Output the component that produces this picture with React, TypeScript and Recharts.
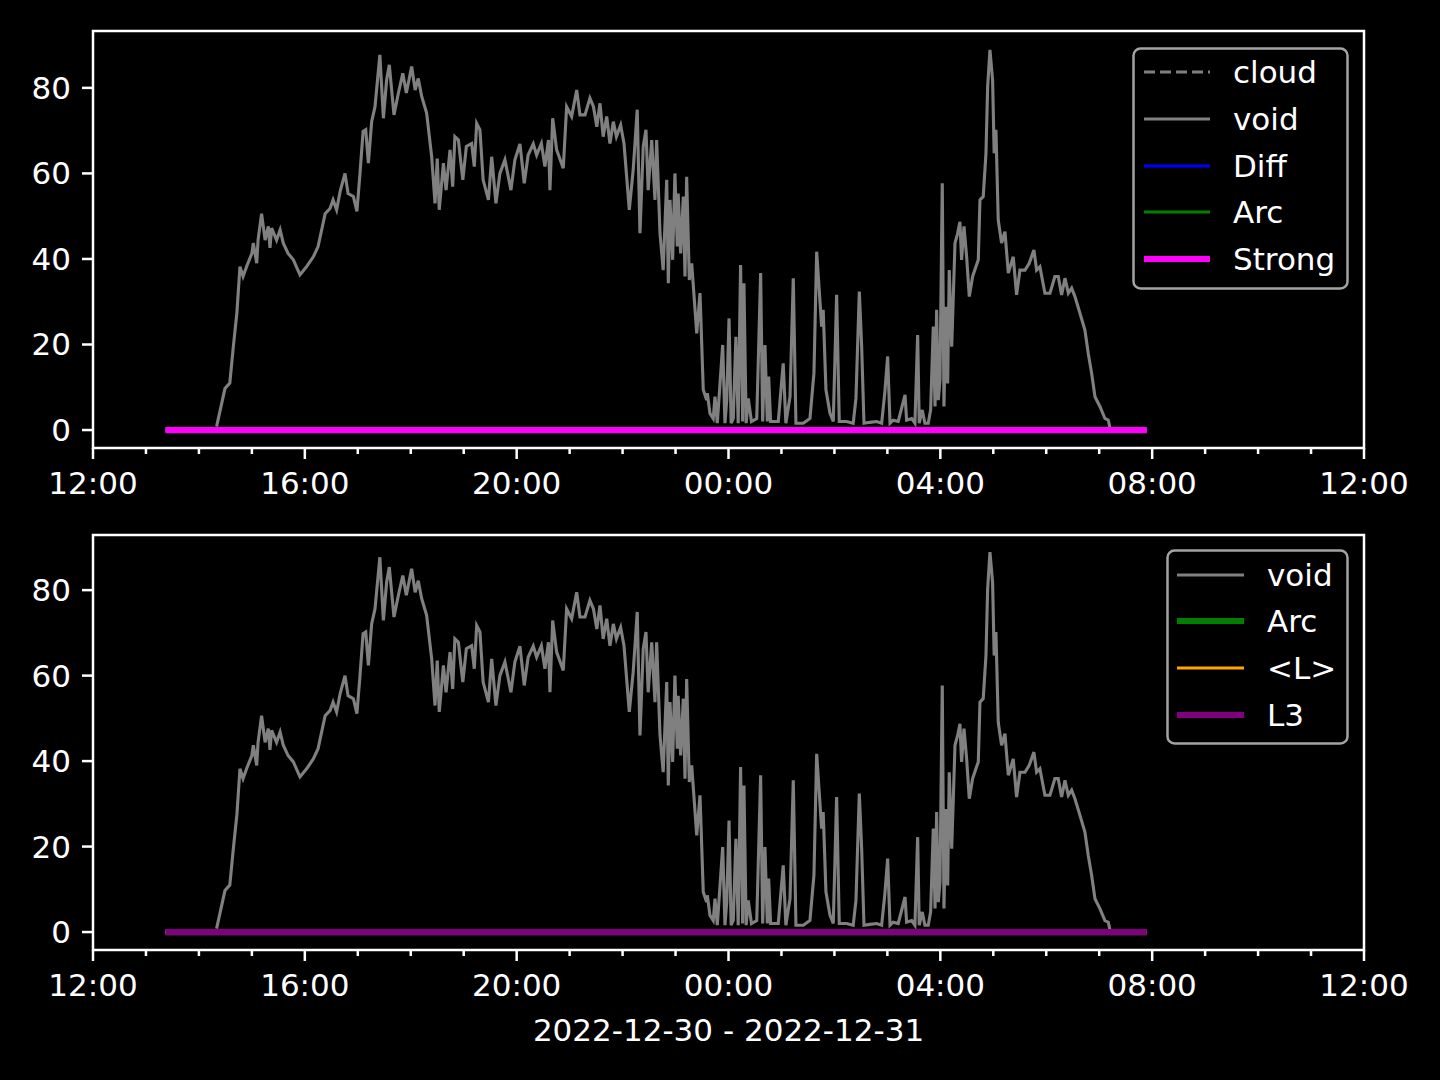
import React from 'react';
import { LineChart, Line, XAxis, YAxis, ReferenceArea, Legend } from 'recharts';

// minutes after 12:00 on 2022-12-30
const hourTicks = [0, 60, 120, 180, 240, 300, 360, 420, 480, 540, 600, 660, 720, 780, 840, 900, 960, 1020, 1080, 1140, 1200, 1260, 1320, 1380, 1440];
const majorTicks = [0, 240, 480, 720, 960, 1200, 1440];
const majorLabels = ['12:00', '16:00', '20:00', '00:00', '04:00', '08:00', '12:00'];
const yTicks = [0, 20, 40, 60, 80];
const dateLabel = '2022-12-30 - 2022-12-31';

const voidMinutes = [
  140, 149.5, 155, 159, 163, 166.5, 170, 174, 180, 181.6, 185.5, 187, 191, 195, 198.6, 200.5, 202.4, 208, 212, 215.6,
  221, 227, 234.5, 242, 249.6, 255, 263, 268.5, 272, 276, 280, 285.5, 289, 295, 299, 302.5, 306, 309, 312, 315.7,
  319.5, 325, 329, 332.7, 335.7, 341, 346, 351, 355, 361, 365, 368.5, 372.4, 378, 383.7, 387.5, 390, 392.3, 397, 400,
  404.5, 407.5, 410, 414, 416.6, 419, 423, 429, 432, 434.7, 438.4, 442, 448, 451.7, 456.5, 461, 466.7, 473.5, 478, 483.7,
  488.6, 493, 498.8, 502.6, 508, 512, 516, 517.7, 520.8, 525.3, 532.8, 536.6, 542.3, 548, 551.7, 557.4, 563, 567, 570.8, 574.4,
  578, 582, 585.7, 589.5, 593, 597.8, 601.6, 607.6, 612, 616.6, 619.7, 623.4, 626.5, 629, 633, 636.7, 638.6, 642.4, 646, 650,
  651.8, 653.7, 656.7, 659.3, 662, 663, 665.8, 668.8, 670.7, 672.6, 675.6, 678.3, 684, 687.7, 691.4, 695.2, 696, 699, 702.7, 704.7,
  707.3, 713.4, 716, 718, 720.6, 723, 725.4, 728.4, 731, 733.7, 736, 737.5, 740, 742.4, 746, 752, 756.4, 758.7, 761.3, 764,
  765.5, 767.7, 776.4, 782, 785, 789.7, 793.4, 796.4, 804.7, 812.3, 816.8, 819.9, 822.8, 825.5, 827.3, 830.4, 835, 838.7, 842.5, 845.5,
  853.8, 861.3, 864.4, 868.2, 870.8, 873.5, 880, 887.8, 893.5, 897.2, 900.3, 903, 906.6, 912.3, 920, 921.8, 927.5, 931.2, 934.3, 936.1,
  939.5, 942.5, 946.3, 949, 952, 954, 955.8, 957.7, 959.6, 962.2, 964.1, 966.4, 968.3, 970.1, 972.9, 976.6, 979.6, 982.2, 984.1, 986.8,
  989.8, 992.8, 996.6, 1000.3, 1003, 1004.9, 1008.6, 1011.7, 1013.6, 1016.2, 1019.2, 1021, 1023, 1025.6, 1029.4, 1033.2, 1037, 1042.6, 1046.4, 1050.2,
  1055.9, 1060.7, 1066, 1069.1, 1072.8, 1078.5, 1084.2, 1089.8, 1093.6, 1097.4, 1101.2, 1105, 1108.8, 1112.5, 1118.2, 1123.8, 1127.6, 1131.4, 1135.2, 1140.8,
  1146.5, 1150.3, 1152.2,
];
const voidValues = [
  0.8, 9.7, 11, 19.5, 27.4, 38.2, 35.9, 38.2, 41.3, 43.7, 39, 44.4, 50.6, 44.4, 47.6, 42.6, 47.2, 44.4, 46.8, 43.7,
  41.3, 39.8, 36.3, 38.2, 40.5, 42.9, 50.6, 51.8, 53.8, 51.5, 55.8, 60, 55.3, 54.6, 51.1, 60, 69.8, 70.2, 62.4, 72.1,
  75.6, 87.7, 72.9, 81.9, 85.4, 73.7, 78.8, 83.4, 78.8, 85, 79.5, 82.2, 78, 74.1, 63.9, 53, 63.5, 51.5, 62.4, 56.1,
  65.5, 56.9, 68.6, 67.8, 62.8, 58.5, 66.3, 67, 61.6, 71.7, 70.2, 58.5, 53.8, 63.9, 53, 60, 63.2, 56.1, 63.2, 66.9,
  57.7, 64.3, 66.9, 64.3, 67, 61.6, 67.8, 56.1, 72.9, 65.5, 61.2, 75.6, 73.3, 79.5, 73.7, 73.7, 77.6, 75.6, 70.9, 76.4,
  68.6, 73.3, 67, 72.1, 68.6, 71.3, 67, 51.5, 60.8, 74.9, 46, 66.3, 70.2, 56.1, 67.8, 53.8, 67.8, 46, 37.4, 58.5,
  34.3, 53.8, 39.8, 60, 42.9, 55.3, 41.3, 54.6, 35.9, 59.2, 35.1, 39, 22.6, 32, 9.4, 7, 8.6, 3.9, 2.7, 7.8,
  1.6, 19.9, 1.6, 7, 26.1, 1.6, 2.7, 21.8, 1.6, 38.6, 2, 34.3, 1.6, 7.4, 2, 2.7, 36.7, 2, 19.9, 2,
  12.5, 2, 2, 15.6, 1.6, 7.8, 35.5, 1.6, 1.6, 2.7, 13.3, 41.7, 32.7, 24.2, 28.1, 9.4, 3.9, 2, 31.6, 2,
  2, 1.6, 7.4, 32.4, 19.9, 1.6, 1.8, 2, 1.6, 9, 17.2, 1.6, 2.3, 2, 8.2, 2.3, 2.7, 1.6, 22.2, 1.6,
  4.7, 1.6, 1.6, 4.7, 24.2, 5.5, 28.1, 7, 11.7, 57.7, 5.5, 28.8, 10.9, 37.4, 19.5, 43.7, 46, 48.7, 39.8, 47.6,
  40.5, 31.2, 35.9, 38.2, 39.8, 53.8, 54.6, 64.7, 80.3, 88.9, 81.9, 64.7, 70.2, 49.1, 43.7, 46.4, 36.7, 40.5, 31.6, 37.4,
  37.4, 39, 42.1, 37.4, 38.2, 32, 32, 35.9, 35.9, 31.6, 35.5, 32, 33.2, 31.2, 27.3, 23.4, 17.9, 13.3, 7.8, 5.5,
  2.7, 2.3, 0.5,
];

// flat indicator series, zero over the whole sampled span
const zeroMinutes = [82, 1194];
const zeroValues = [0, 0];

const voidData = voidMinutes.map((t, i) => ({ t, v: voidValues[i] }));
const zeroData = zeroMinutes.map((t, i) => ({ t, v: zeroValues[i] }));

type Series = { name: string; color: string; width: number; dash?: string; data: { t: number; v: number }[] };

const topSeries: Series[] = [
  { name: 'cloud', color: '#808080', width: 3.1, dash: '11 5', data: zeroData },
  { name: 'void', color: '#808080', width: 3.1, data: voidData },
  { name: 'Diff', color: '#0000ff', width: 3.1, data: zeroData },
  { name: 'Arc', color: '#008000', width: 3.1, data: zeroData },
  { name: 'Strong', color: '#ff00ff', width: 6.2, data: zeroData },
];

const bottomSeries: Series[] = [
  { name: 'void', color: '#808080', width: 3.1, data: voidData },
  { name: 'Arc', color: '#008000', width: 6.2, data: zeroData },
  { name: '<L>', color: '#ffa500', width: 3.1, data: zeroData },
  { name: 'L3', color: '#800080', width: 6.2, data: zeroData },
];

const FONT = 'DejaVu Sans';
const W = 1440;

const XTick = (props: any) => {
  const { x, y, payload } = props;
  const idx = majorTicks.indexOf(payload.value);
  const major = idx >= 0;
  return (
    <g>
      <line x1={x} x2={x} y1={y} y2={y + (major ? 11 : 6)} stroke="#fff" strokeWidth={2.5} />
      {major && (
        <text x={x} y={y + 46} textAnchor="middle" fill="#fff" fontSize={31} fontFamily={FONT}>
          {majorLabels[idx]}
        </text>
      )}
    </g>
  );
};

const YTick = (props: any) => {
  const { x, y, payload } = props;
  return (
    <g>
      <line x1={x - 11} x2={x} y1={y} y2={y} stroke="#fff" strokeWidth={2.5} />
      <text x={x - 22} y={y + 11} textAnchor="end" fill="#fff" fontSize={31} fontFamily={FONT}>
        {payload.value}
      </text>
    </g>
  );
};

const LegendBox = ({ series, width, height, handleX1, handleX2, textX, rows }: any) => (
  <svg width={width} height={height} style={{ display: 'block' }}>
    <rect x={1.5} y={1.5} width={width - 3} height={height - 3} rx={7} fill="#000" stroke="#a3a3a3" strokeWidth={2.5} />
    {series.map((s: Series, i: number) => (
      <g key={s.name}>
        <line x1={handleX1} x2={handleX2} y1={rows[i]} y2={rows[i]} stroke={s.color} strokeWidth={s.width} strokeDasharray={s.dash} />
        <text x={textX} y={rows[i] + 11} fill="#fff" fontSize={31} fontFamily={FONT}>
          {s.name}
        </text>
      </g>
    ))}
  </svg>
);

type PanelProps = {
  series: Series[];
  height: number;
  plotHeight: number;
  axisHeight: number;
  yDomain: [number, number];
  legend: { left: number; top: number; width: number; height: number; handleX1: number; handleX2: number; textX: number; rows: number[] };
  xLabel?: string;
};

const Panel = ({ series, height, axisHeight, yDomain, legend, xLabel }: PanelProps) => (
  <LineChart width={W} height={height} margin={{ top: 31, right: 76, bottom: 0, left: 0 }}>
    <XAxis
      dataKey="t"
      type="number"
      domain={[0, 1440]}
      ticks={hourTicks}
      interval={0}
      allowDataOverflow
      axisLine={false}
      tickLine={false}
      tickSize={0}
      tickMargin={0}
      height={axisHeight}
      tick={<XTick />}
      label={
        xLabel
          ? (p: any) => (
              <text
                x={p.viewBox.x + p.viewBox.width / 2}
                y={p.viewBox.y + 91}
                textAnchor="middle"
                fill="#fff"
                fontSize={31}
                fontFamily={FONT}
              >
                {xLabel}
              </text>
            )
          : undefined
      }
    />
    <YAxis
      type="number"
      domain={yDomain}
      ticks={yTicks}
      interval={0}
      allowDataOverflow
      axisLine={false}
      tickLine={false}
      tickSize={0}
      tickMargin={0}
      width={93}
      tick={<YTick />}
    />
    <ReferenceArea x1={0} x2={1440} y1={yDomain[0]} y2={yDomain[1]} fill="none" stroke="#fff" strokeWidth={2.5} fillOpacity={0} ifOverflow="visible" />
    {series.map((s) => (
      <Line
        key={s.name}
        data={s.data}
        dataKey="v"
        name={s.name}
        type="linear"
        stroke={s.color}
        strokeWidth={s.width}
        strokeDasharray={s.dash}
        dot={false}
        activeDot={false}
        isAnimationActive={false}
      />
    ))}
    <Legend
      layout="vertical"
      align="center"
      verticalAlign="middle"
      wrapperStyle={{ left: legend.left, top: legend.top, width: legend.width, height: legend.height, right: 'auto', bottom: 'auto' }}
      content={() => <LegendBox series={series} {...legend} />}
    />
  </LineChart>
);

export default function App() {
  return (
    <div style={{ position: 'absolute', left: 0, top: 0, width: W, height: 1080, background: '#000', overflow: 'hidden' }}>
      <div style={{ position: 'absolute', left: 0, top: 0 }}>
        <Panel
          series={topSeries}
          height={520}
          plotHeight={417}
          axisHeight={72}
          yDomain={[-4.2, 93.3]}
          legend={{ left: 1132, top: 47, width: 217, height: 243, handleX1: 12, handleX2: 78, textX: 101, rows: [25, 72, 119, 165, 212] }}
        />
      </div>
      <div style={{ position: 'absolute', left: 0, top: 504 }}>
        <Panel
          series={bottomSeries}
          height={556}
          plotHeight={415}
          axisHeight={110}
          yDomain={[-4.2, 92.9]}
          legend={{ left: 1166, top: 45, width: 183, height: 196, handleX1: 11, handleX2: 78, textX: 101, rows: [26, 72, 119, 166] }}
          xLabel={dateLabel}
        />
      </div>
    </div>
  );
}
